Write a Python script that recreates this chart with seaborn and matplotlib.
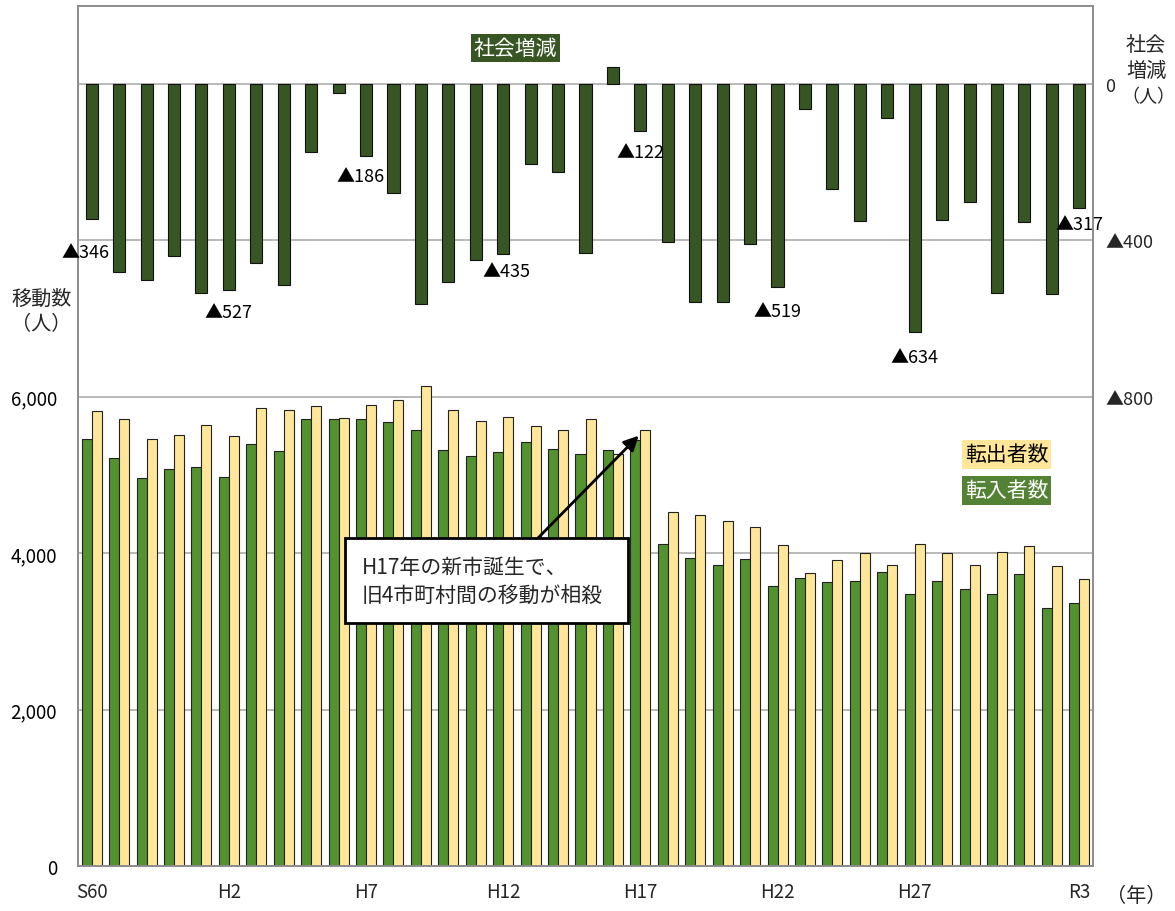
import matplotlib
matplotlib.use("Agg")
import matplotlib.pyplot as plt
import numpy as np
import pandas as pd
import seaborn as sns
from matplotlib.patches import Rectangle

# ---------------- data ----------------
years = ["S60", "S61", "S62", "S63"] + [f"H{i}" for i in range(1, 31)] + ["R1", "R2", "R3"]
shown_years = ["S60", "H2", "H7", "H12", "H17", "H22", "H27", "R3"]

moved_in = [5464, 5220, 4960, 5075, 5105, 4976, 5396, 5306, 5708, 5708,
            5708, 5674, 5571, 5323, 5242, 5297, 5417, 5332, 5268, 5323,
            5452, 4116, 3932, 3851, 3919, 3580, 3679, 3636, 3644, 3752,
            3477, 3644, 3541, 3477, 3730, 3297, 3358]
moved_out = [5815, 5708, 5460, 5512, 5640, 5503, 5850, 5824, 5884, 5730,
             5897, 5952, 6141, 5828, 5692, 5734, 5623, 5574, 5717, 5272,
             5571, 4519, 4489, 4412, 4330, 4103, 3747, 3906, 3996, 3842,
             4116, 3996, 3846, 4013, 4090, 3833, 3675]
social = [-346, -482, -503, -441, -536, -527, -459, -515, -174, -23,
          -186, -279, -562, -508, -451, -435, -205, -226, -433, 44,
          -122, -405, -559, -559, -410, -519, -64, -269, -351, -87,
          -634, -349, -303, -536, -354, -538, -317]
labelled_years = ["S60", "H2", "H7", "H12", "H17", "H22", "H27", "R3"]

left_ticks = [0, 2000, 4000, 6000, 8000, 10000]
left_labels = ["0", "2,000", "4,000", "6,000", "", ""]
right_ticks = [0, -400, -800]
right_labels = ["0", "▲400", "▲800"]

IN_NAME, OUT_NAME = "転入者数", "転出者数"

# ---------------- style ----------------
sns.set_style("white")
plt.rcParams["font.family"] = ["Noto Sans CJK JP", "DejaVu Sans"]

DARK = "#375623"
GREEN = "#53932F"
GREEN_BOX = "#548235"
YELLOW = "#FFE699"
GRID = "#A6A6A6"
SPINE = "#8C8C8C"

W, H = 1175, 912
fig = plt.figure(figsize=(W / 100, H / 100), dpi=100)


def fx(px):
    return px / W


def fy(py):
    return 1 - py / H


ax = fig.add_axes([fx(78), fy(867), (1093 - 78) / W, (867 - 6.5) / H])

df = pd.DataFrame({
    "year": years * 2,
    "value": moved_in + moved_out,
    "kind": [IN_NAME] * len(years) + [OUT_NAME] * len(years),
})
sns.barplot(data=df, x="year", y="value", hue="kind", order=years,
            hue_order=[IN_NAME, OUT_NAME], palette=[GREEN, YELLOW],
            width=0.73, saturation=1, errorbar=None, legend=False,
            edgecolor="#222222", linewidth=0.8, ax=ax)

ax2 = ax.twinx()
sns.barplot(x=years, y=social, order=years, color=DARK, width=0.44,
            saturation=1, errorbar=None, edgecolor="#111111",
            linewidth=0.8, ax=ax2)

ax.set_xlim(-0.5, len(years) - 0.5)
ax.set_ylim(0, 11000)
ax2.set_ylim(-2000, 200)
ax.set_xlabel("")
ax.set_ylabel("")
ax2.set_xlabel("")
ax2.set_ylabel("")

# grid & left axis
ax.set_yticks(left_ticks)
ax.set_yticklabels(left_labels)
ax.yaxis.grid(True, color=GRID, linewidth=1.1)
ax.xaxis.grid(False)
ax.set_axisbelow(True)
ax.tick_params(axis="y", length=0, pad=15, labelsize=13.5, colors="black")

# right axis
ax2.set_yticks(right_ticks)
ax2.set_yticklabels(right_labels)
ax2.tick_params(axis="y", length=0, pad=9, labelsize=13)
ax2.grid(False)

# x axis
pos = [years.index(y) for y in shown_years]
ax.set_xticks(pos)
ax.set_xticklabels(shown_years)
ax.set_xticks(np.arange(-0.5, len(years), 1.0), minor=True)
ax.tick_params(axis="x", which="major", length=0, pad=11, labelsize=13.5)
ax.tick_params(axis="x", which="minor", direction="in", length=4,
               color=SPINE, width=1)
ax.set_xlim(-0.5, len(years) - 0.5)

for a in (ax, ax2):
    for s in a.spines.values():
        s.set_color(SPINE)
        s.set_linewidth(1.2)
        s.set_visible(True)

# social labels
label_dy = {"S60": 33, "H2": 22, "H7": 20, "H12": 17, "H17": 21,
            "H22": 24, "H27": 25, "R3": 16}
label_dx = {"S60": -6, "H7": -6, "H12": 3}
for yname in labelled_years:
    i = years.index(yname)
    v = social[i]
    ax2.annotate(f"▲{-v}", xy=(i, v),
                 xytext=(label_dx.get(yname, 0), -label_dy[yname]),
                 textcoords="offset pixels", ha="center", va="center",
                 fontsize=13, color="black")

# annotation box + arrow
i17 = years.index("H17")
box = Rectangle((fx(345), fy(624)), fx(628) - fx(345), fy(539) - fy(624),
                transform=fig.transFigure, facecolor="white",
                edgecolor="black", linewidth=2, zorder=20)
fig.add_artist(box)
fig.text(fx(362), fy(568), "H17年の新市誕生で、", ha="left", va="center",
         fontsize=15, zorder=21)
fig.text(fx(362), fy(596), "旧4市町村間の移動が相殺", ha="left", va="center",
         fontsize=15, zorder=21)
ax.annotate("", xy=(i17 - 0.06, moved_out[i17] - 70),
            xytext=(fx(538), fy(539)), textcoords="figure fraction",
            arrowprops=dict(arrowstyle="-|>", color="black", lw=2,
                            mutation_scale=22, shrinkA=0, shrinkB=0),
            zorder=22)

# legend-like labelled boxes
def label_box(cx, cy, w, h, text, fc, tc):
    fig.add_artist(Rectangle((fx(cx - w / 2), fy(cy + h / 2)), w / W, h / H,
                             transform=fig.transFigure, facecolor=fc,
                             edgecolor="none", zorder=15))
    fig.text(fx(cx), fy(cy), text, ha="center", va="center", fontsize=15,
             color=tc, zorder=16)


label_box(515.5, 49, 89, 28, "社会増減", DARK, "white")
label_box(1006.5, 455.5, 89, 29, OUT_NAME, YELLOW, "black")
label_box(1006.5, 491.5, 89, 29, IN_NAME, GREEN_BOX, "white")

# axis titles
fig.text(fx(42), fy(299), "移動数", ha="center", va="center", fontsize=14.5)
fig.text(fx(41), fy(325), "（人）", ha="center", va="center", fontsize=14.5)
fig.text(fx(1146), fy(45), "社会", ha="center", va="center", fontsize=14.5)
fig.text(fx(1146), fy(71), "増減", ha="center", va="center", fontsize=14.5)
fig.text(fx(1148), fy(97), "（人）", ha="center", va="center", fontsize=13)
fig.text(fx(1136), fy(897), "（年）", ha="center", va="center", fontsize=14.5)

fig.savefig("out.png", dpi=100, facecolor="white")
